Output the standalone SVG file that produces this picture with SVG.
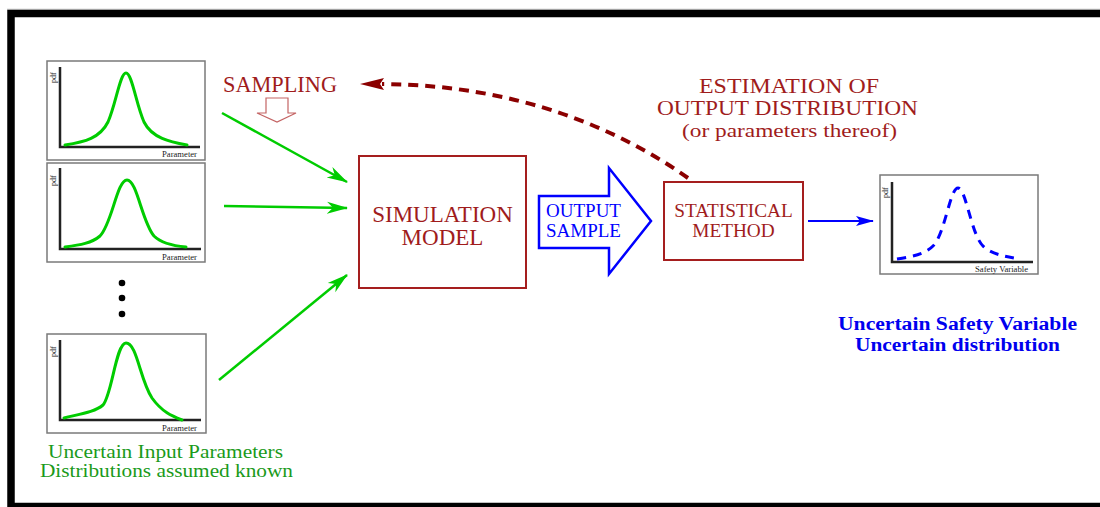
<svg xmlns="http://www.w3.org/2000/svg" width="1100" height="507" viewBox="0 0 1100 507">
<style>
.frame{fill:none;stroke:#000;stroke-width:7.5}
.plotbox{fill:#fff;stroke:#7a7a7a;stroke-width:1.5}
.axis{fill:none;stroke:#222;stroke-width:2.5}
.gcurve{fill:none;stroke:#00cc00;stroke-width:3;stroke-linejoin:round;stroke-linecap:round}
.bcurve{fill:none;stroke:#0000ff;stroke-width:3;stroke-dasharray:9 7}
.tiny{font-family:"Liberation Serif","Times New Roman",serif;font-size:8px;fill:#222}
.rbox{fill:#fff;stroke:#a51e1e;stroke-width:2}
.rtext{font-family:"Liberation Serif","Times New Roman",serif;fill:#a01c1c;text-anchor:middle}
.btext{font-family:"Liberation Serif","Times New Roman",serif;fill:#0000ff;text-anchor:middle}
.gtext{font-family:"Liberation Serif","Times New Roman",serif;fill:#1a9a1a;text-anchor:middle;font-size:18px}
.bbold{font-family:"Liberation Serif","Times New Roman",serif;fill:#0000ee;text-anchor:middle;font-size:18px;font-weight:bold}
.garrow{stroke:#00cc00;stroke-width:2.5;fill:none}
</style>
<defs>
<marker id="gh" markerUnits="userSpaceOnUse" markerWidth="22" markerHeight="14" viewBox="0 0 22 14" refX="20" refY="7" orient="auto">
<path d="M0,1 L21,7 L0,13 L6,7 z" fill="#00cc00"/>
</marker>
<marker id="bh" markerUnits="userSpaceOnUse" markerWidth="18" markerHeight="12" viewBox="0 0 18 12" refX="17" refY="6" orient="auto">
<path d="M0,1 L18,6 L0,11 L4,6 z" fill="#0000ff"/>
</marker>
</defs>

<line x1="7" y1="9.2" x2="1100" y2="9.2" stroke="#c8c8c8" stroke-width="1"/>
<rect class="frame" x="11" y="13.5" width="1100" height="493"/>

<g id="plot1">
<rect class="plotbox" x="47" y="61" width="158" height="99"/>
<path class="axis" d="M60,67 L60,147 L200,147"/>
<path class="gcurve" d="M65,145 C85,142 100,138 108,122 C116,104 120,73 126,73 C132,73 136,104 144,122 C152,138 170,142 187,145"/>
<text class="tiny" transform="translate(56,83) rotate(-90)">pdf</text>
<text class="tiny" x="162" y="157" textLength="35" lengthAdjust="spacingAndGlyphs">Parameter</text>
</g>

<g id="plot2">
<rect class="plotbox" x="47" y="163" width="158" height="99"/>
<path class="axis" d="M60,168 L60,249 L201,249"/>
<path class="gcurve" d="M65,247 C80,245 92,243 100,236 C112,224 117,180 127,180 C137,180 142,222 154,236 C162,244 175,246 186,247"/>
<text class="tiny" transform="translate(56,186) rotate(-90)">pdf</text>
<text class="tiny" x="162" y="260" textLength="35" lengthAdjust="spacingAndGlyphs">Parameter</text>
</g>

<g id="dots">
<circle cx="122" cy="283" r="3.3" fill="#000"/>
<circle cx="122" cy="298" r="3.3" fill="#000"/>
<circle cx="122" cy="314" r="3.3" fill="#000"/>
</g>

<g id="plot3">
<rect class="plotbox" x="47" y="334" width="159" height="99"/>
<path class="axis" d="M60,340 L60,420 L201,420"/>
<path class="gcurve" d="M64,418 C80,414 95,412 103,405 C112,395 116,343 126,343 C137,343 140,380 152,398 C162,412 172,416 182,420"/>
<text class="tiny" transform="translate(56,357) rotate(-90)">pdf</text>
<text class="tiny" x="162" y="431" textLength="35" lengthAdjust="spacingAndGlyphs">Parameter</text>
</g>

<g id="inputs-label">
<text class="gtext" x="165.5" y="458" textLength="235" lengthAdjust="spacingAndGlyphs">Uncertain Input Parameters</text>
<text class="gtext" x="166.5" y="477" textLength="253" lengthAdjust="spacingAndGlyphs">Distributions assumed known</text>
</g>

<g id="sampling">
<text class="rtext" x="280" y="92" font-size="22.3">SAMPLING</text>
<polygon points="266,98 288,98 288,113 296,113 277,122 257,113 266,113" fill="#fff" stroke="#c46464" stroke-width="1.2"/>
</g>

<g id="simulation">
<rect class="rbox" x="359" y="156" width="167" height="132"/>
<text class="rtext" x="442.5" y="222" font-size="23">SIMULATION</text>
<text class="rtext" x="442.5" y="245" font-size="23">MODEL</text>
</g>

<g id="output-sample">
<polygon points="539,196 609,196 609,168 651,221 609,274 609,248 539,248" fill="#fff" stroke="#0000ff" stroke-width="2.5" stroke-linejoin="miter"/>
<text class="btext" x="583.5" y="217" font-size="19">OUTPUT</text>
<text class="btext" x="583.5" y="237" font-size="19">SAMPLE</text>
</g>

<g id="statistical">
<rect class="rbox" x="664" y="182" width="139" height="78"/>
<text class="rtext" x="733.5" y="217" font-size="19.3">STATISTICAL</text>
<text class="rtext" x="733.5" y="237" font-size="19.3">METHOD</text>
</g>

<g id="estimation-label">
<text class="rtext" x="789" y="93" font-size="21" textLength="180" lengthAdjust="spacingAndGlyphs">ESTIMATION OF</text>
<text class="rtext" x="787.5" y="115" font-size="21" textLength="261" lengthAdjust="spacingAndGlyphs">OUTPUT DISTRIBUTION</text>
<text class="rtext" x="789.5" y="136.5" font-size="19.5" textLength="215" lengthAdjust="spacingAndGlyphs">(or parameters thereof)</text>
</g>

<g id="plot-out">
<rect class="plotbox" x="880" y="175" width="158" height="99"/>
<path class="axis" d="M892,182 L892,262 L1033,262"/>
<path class="bcurve" d="M897,259 C915,256 925,254 933,246 C945,234 950,188 958,188 C966,188 971,234 983,246 C991,254 1003,256 1020,259"/>
<text class="tiny" transform="translate(888,198) rotate(-90)">pdf</text>
<text class="tiny" x="975" y="272" textLength="53" lengthAdjust="spacingAndGlyphs">Safety Variable</text>
</g>

<g id="output-label">
<text class="bbold" x="957.5" y="330" textLength="239" lengthAdjust="spacingAndGlyphs">Uncertain Safety Variable</text>
<text class="bbold" x="957.5" y="351" textLength="205" lengthAdjust="spacingAndGlyphs">Uncertain distribution</text>
</g>

<g id="connectors">
<line class="garrow" x1="222" y1="113" x2="347" y2="182" marker-end="url(#gh)"/>
<line class="garrow" x1="224" y1="206" x2="347" y2="208" marker-end="url(#gh)"/>
<line class="garrow" x1="219" y1="380" x2="347" y2="275" marker-end="url(#gh)"/>
<line x1="808" y1="221" x2="873" y2="221" stroke="#0000ff" stroke-width="2" marker-end="url(#bh)"/>
<path d="M688,178 C620,130 520,85 382,84" fill="none" stroke="#8b0000" stroke-width="4" stroke-dasharray="10 7"/>
<polygon points="360,84 384,78 380,84 384,90" fill="#8b0000"/>
</g>
</svg>
